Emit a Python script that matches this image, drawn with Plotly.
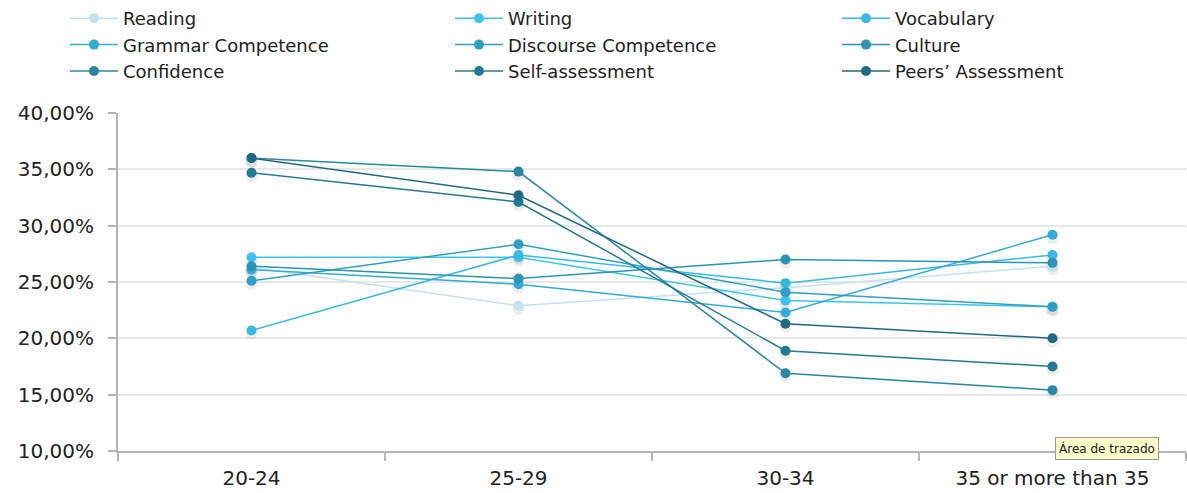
import plotly.graph_objects as go

# Age groups on the x axis
age_groups = ["20-24", "25-29", "30-34", "35 or more than 35"]

# Share of responses (%) per skill and age group
reading = [26.3, 22.9, 24.5, 26.4]
writing = [27.2, 27.2, 23.35, 22.8]
vocabulary = [20.7, 27.4, 24.9, 27.4]
grammar_competence = [26.1, 24.8, 22.3, 29.2]
discourse_competence = [25.1, 28.35, 24.1, 22.8]
culture = [26.4, 25.3, 27.0, 26.7]
confidence = [36.0, 34.8, 16.9, 15.4]
self_assessment = [34.7, 32.1, 18.9, 17.5]
peers_assessment = [36.0, 32.7, 21.3, 20.0]

y_ticks = [10, 15, 20, 25, 30, 35, 40]
y_tick_labels = ["10,00%", "15,00%", "20,00%", "25,00%", "30,00%", "35,00%", "40,00%"]

series = [
    ("Reading", reading, "#c3e1ee", "legend"),
    ("Writing", writing, "#3fc3ee", "legend2"),
    ("Vocabulary", vocabulary, "#39b8e2", "legend3"),
    ("Grammar Competence", grammar_competence, "#34abd4", "legend"),
    ("Discourse Competence", discourse_competence, "#2f9fc3", "legend2"),
    ("Culture", culture, "#2b93b3", "legend3"),
    ("Confidence", confidence, "#2a87a4", "legend"),
    ("Self-assessment", self_assessment, "#257a93", "legend2"),
    ("Peers’ Assessment", peers_assessment, "#1f6a80", "legend3"),
]

FONT = "DejaVu Sans"
W, H = 1187, 493
L, R, T, B = 118, 1, 113, 42

fig = go.Figure()

# soft drop shadow under every point
for name, vals, color, lg in series:
    fig.add_trace(go.Scatter(
        x=age_groups, y=[v - 0.3 for v in vals], mode="markers",
        marker=dict(size=12, color="rgba(0,0,0,0.07)", line=dict(width=0)),
        showlegend=False, hoverinfo="skip",
    ))

for name, vals, color, lg in series:
    fig.add_trace(go.Scatter(
        x=age_groups, y=vals, name=name, mode="lines+markers",
        line=dict(color=color, width=1.5),
        marker=dict(size=10, color=color),
        legend=lg,
    ))

legend_style = dict(
    orientation="v", xref="container", yref="container",
    yanchor="top", xanchor="left", y=1.0,
    font=dict(family=FONT, size=18, color="#222222"),
    bgcolor="rgba(0,0,0,0)", itemwidth=48, tracegroupgap=0,
)
col_left = [65, 450, 837]

fig.update_layout(
    width=W, height=H,
    margin=dict(l=L, r=R, t=T, b=B, autoexpand=False),
    paper_bgcolor="white", plot_bgcolor="white",
    font=dict(family=FONT, size=20, color="#222222"),
    legend=dict(x=col_left[0] / W, **legend_style),
    legend2=dict(x=col_left[1] / W, **legend_style),
    legend3=dict(x=col_left[2] / W, **legend_style),
    xaxis=dict(
        type="category", range=[-0.5, 3.5],
        showline=True, linecolor="#b4b4b4", linewidth=2,
        ticks="outside", tickson="boundaries", ticklen=8, tickwidth=2,
        tickcolor="#b4b4b4", showgrid=False,
        tickfont=dict(family=FONT, size=20, color="#222222"),
        ticklabelstandoff=8,
    ),
    yaxis=dict(
        range=[10, 40], tickvals=y_ticks, ticktext=y_tick_labels,
        showline=True, linecolor="#b4b4b4", linewidth=2,
        ticks="outside", ticklen=8, tickwidth=2, tickcolor="#b4b4b4",
        showgrid=True, gridcolor="#e8e8e8", gridwidth=2,
        zeroline=False,
        tickfont=dict(family=FONT, size=20, color="#222222"),
        ticklabelstandoff=10,
    ),
)

# hover hint box over the bottom right of the plotting area
fig.add_annotation(
    xref="paper", yref="paper", x=(1107 - L) / (W - L - R), y=(451 - 448) / (H - T - B),
    xanchor="center", yanchor="middle",
    text="Área de trazado", showarrow=False,
    font=dict(family=FONT, size=12, color="#222222"),
    bgcolor="#fdfdcc", bordercolor="#9a9a9a", borderwidth=1, borderpad=3,
)

fig.write_html("out.html")
